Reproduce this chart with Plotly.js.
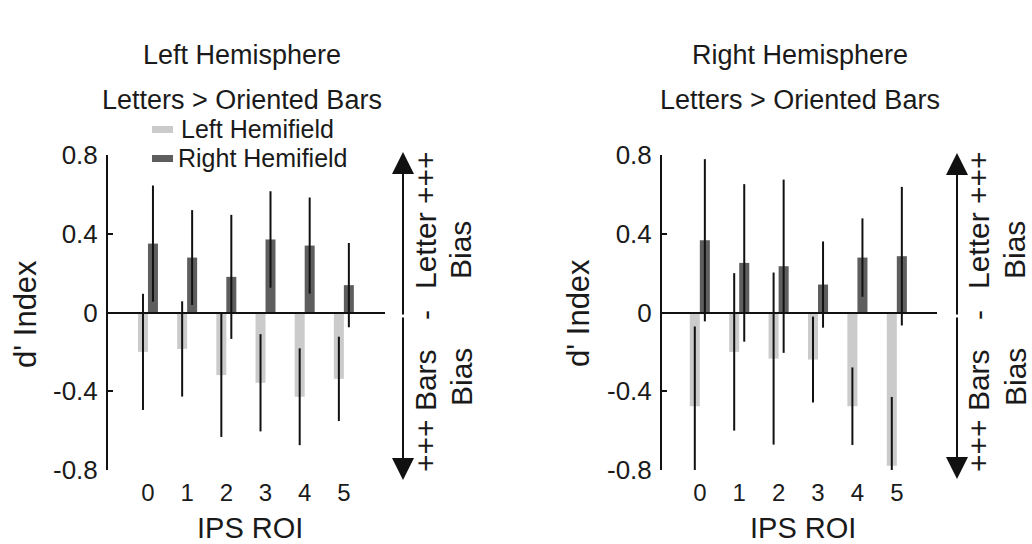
<!DOCTYPE html>
<html>
<head>
<meta charset="utf-8">
<script src="https://cdn.plot.ly/plotly-3.0.1.min.js"></script>
<style>
  html, body { margin: 0; padding: 0; background: #ffffff; }
  #chart { width: 1032px; height: 544px; }
</style>
</head>
<body>
<div id="chart"></div>
<script>
// ---- data ----
const rois = ["0", "1", "2", "3", "4", "5"];
const seriesNames = ["Left Hemifield", "Right Hemifield"];

// Left hemisphere panel
const lhLeftField = [-0.20, -0.185, -0.318, -0.357, -0.428, -0.337];
const lhLeftFieldErr = [0.295, 0.242, 0.314, 0.247, 0.246, 0.214];
const lhRightField = [0.350, 0.279, 0.181, 0.371, 0.340, 0.139];
const lhRightFieldErr = [0.295, 0.241, 0.315, 0.245, 0.244, 0.214];

// Right hemisphere panel
const rhLeftField = [-0.476, -0.200, -0.234, -0.239, -0.476, -0.779];
const rhLeftFieldErr = [0.405, 0.400, 0.437, 0.218, 0.197, 0.350];
const rhRightField = [0.367, 0.252, 0.235, 0.142, 0.279, 0.286];
const rhRightFieldErr = [0.412, 0.400, 0.440, 0.219, 0.199, 0.352];

const yTickVals = [-0.8, -0.4, 0, 0.4, 0.8];
const yTickText = ["-0.8", "-0.4", "0", "0.4", "0.8"];

// ---- styling ----
const FONT = "Liberation Sans, Arial, Helvetica, sans-serif";
const TXT = "#1a1a1a";
const LIGHT = "#cbcbcb";
const DARK = "#5e5e5e";
const W = 1032, H = 544;
const px = x => x / W;
const py = y => 1 - y / H;

function barTrace(x, y, err, color, name, xa, ya) {
  return {
    type: "bar", x: x, y: y, name: name, xaxis: xa, yaxis: ya,
    marker: { color: color, line: { width: 0 } },
    error_y: { type: "data", array: err, symmetric: true, color: "#111111", thickness: 2, width: 0 },
    cliponaxis: false, showlegend: false, hoverinfo: "x+y"
  };
}

const data = [
  barTrace(rois, lhLeftField, lhLeftFieldErr, LIGHT, seriesNames[0], "x", "y"),
  barTrace(rois, lhRightField, lhRightFieldErr, DARK, seriesNames[1], "x", "y"),
  barTrace(rois, rhLeftField, rhLeftFieldErr, LIGHT, seriesNames[0], "x2", "y2"),
  barTrace(rois, rhRightField, rhRightFieldErr, DARK, seriesNames[1], "x2", "y2")
];

function yAxis(anchor) {
  return {
    anchor: anchor, domain: [py(470), py(155)], range: [-0.8, 0.8],
    showgrid: false, showline: true, linecolor: "#111", linewidth: 2,
    ticks: "inside", ticklen: 5, tickwidth: 2, tickcolor: "#111",
    tickvals: yTickVals, ticktext: yTickText,
    tickfont: { family: FONT, size: 26, color: TXT },
    ticklabelstandoff: 3,
    zeroline: true, zerolinecolor: "#111", zerolinewidth: 2,
    zerolinelayer: "above traces", layer: "above traces",
    automargin: false, fixedrange: true
  };
}
function xAxis(anchor, d0, d1, r0, r1) {
  return {
    anchor: anchor, domain: [px(d0), px(d1)], range: [r0, r1], type: "category",
    showgrid: false, showline: false, zeroline: false, ticks: "",
    tickfont: { family: FONT, size: 24, color: TXT },
    ticklabelstandoff: 6,
    automargin: false, fixedrange: true
  };
}

function txt(text, x, y, size, angle) {
  return {
    xref: "paper", yref: "paper", x: px(x), y: py(y), text: text,
    showarrow: false, xanchor: "center", yanchor: "middle",
    textangle: angle || 0, font: { family: FONT, size: size, color: TXT }
  };
}
function arrow(x, yTip, yTail) {
  return {
    xref: "paper", yref: "paper", x: px(x), y: py(yTip), text: "",
    showarrow: true, ax: 0, ay: yTail - yTip, axref: "pixel", ayref: "pixel",
    arrowhead: 2, arrowsize: 2.2, arrowwidth: 2, arrowcolor: "#111"
  };
}

const annotations = [
  // panel titles
  txt("Left Hemisphere", 242, 55, 27),
  txt("Letters &gt; Oriented Bars", 242, 100, 27),
  txt("Right Hemisphere", 800, 55, 27),
  txt("Letters &gt; Oriented Bars", 800, 100, 27),
  // axis titles
  txt("d' Index", 25, 314, 31, -90),
  txt("d' Index", 578, 313, 31, -90),
  txt("IPS ROI", 250, 528, 29),
  txt("IPS ROI", 803, 528, 29),
  // legend labels
  { xref: "paper", yref: "paper", x: px(179), y: py(129), text: seriesNames[0], showarrow: false,
    xanchor: "left", yanchor: "middle", font: { family: FONT, size: 25, color: TXT } },
  { xref: "paper", yref: "paper", x: px(176), y: py(158), text: seriesNames[1], showarrow: false,
    xanchor: "left", yanchor: "middle", font: { family: FONT, size: 25, color: TXT } },
  // bias arrows, left panel
  arrow(403, 152, 316), arrow(403, 480, 316),
  txt("+++ Bars", 425, 411, 30, -90),
  txt("-", 425, 315, 30, -90),
  txt("Letter +++", 425, 220, 30, -90),
  txt("Bias", 461, 250, 30, -90),
  txt("Bias", 461, 377, 30, -90),
  // bias arrows, right panel
  arrow(957, 153, 316), arrow(957, 479, 316),
  txt("+++ Bars", 978, 411, 30, -90),
  txt("-", 978, 315, 30, -90),
  txt("Letter +++", 978, 220, 30, -90),
  txt("Bias", 1015, 250, 30, -90),
  txt("Bias", 1015, 377, 30, -90)
];

const shapes = [
  { type: "rect", xref: "paper", yref: "paper", x0: px(152), x1: px(173), y0: py(133), y1: py(126),
    fillcolor: LIGHT, line: { width: 0 } },
  { type: "rect", xref: "paper", yref: "paper", x0: px(152), x1: px(173), y0: py(162), y1: py(155),
    fillcolor: DARK, line: { width: 0 } }
];

const layout = {
  width: W, height: H,
  margin: { l: 0, r: 0, t: 0, b: 0, pad: 0 },
  paper_bgcolor: "#ffffff", plot_bgcolor: "rgba(0,0,0,0)",
  barmode: "group", bargap: 0.49, bargroupgap: 0,
  showlegend: false,
  font: { family: FONT, color: TXT },
  xaxis: xAxis("y", 108, 385, -1.02, 6.05),
  yaxis: yAxis("x"),
  xaxis2: xAxis("y2", 662, 937, -0.96, 6.02),
  yaxis2: yAxis("x2"),
  annotations: annotations,
  shapes: shapes
};

Plotly.newPlot("chart", data, layout, { displayModeBar: false, staticPlot: true });
</script>
</body>
</html>
